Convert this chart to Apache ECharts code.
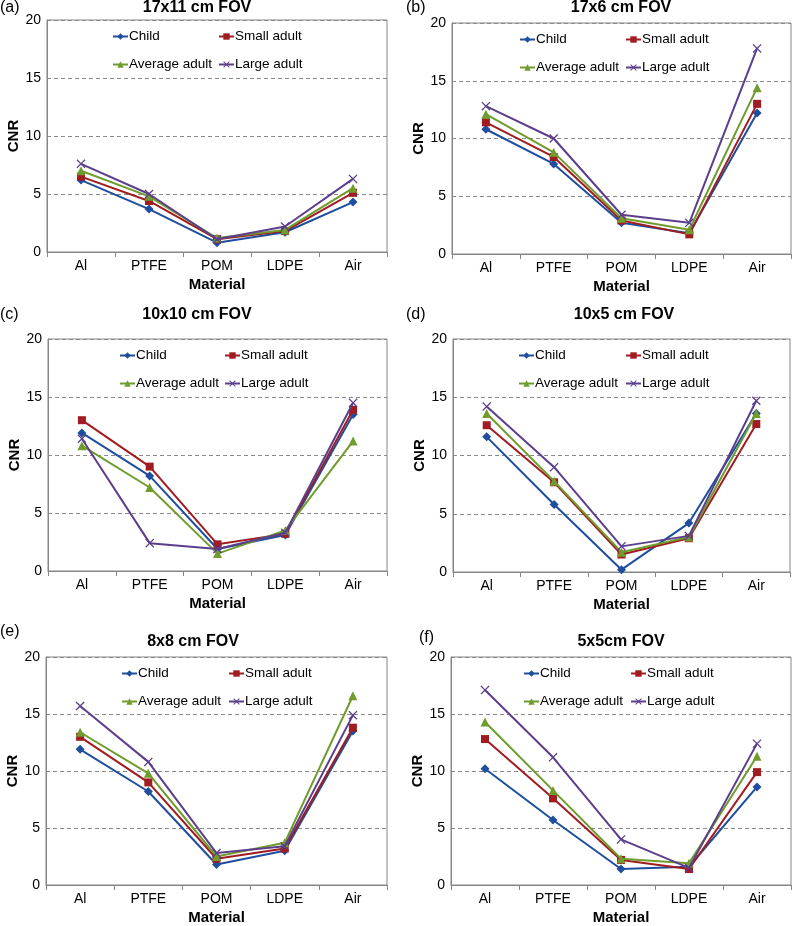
<!DOCTYPE html>
<html>
<head>
<meta charset="utf-8">
<title>CNR by material and FOV</title>
<script src="https://cdn.jsdelivr.net/npm/echarts@6/dist/echarts.min.js"></script>
<style>
  html, body { margin: 0; padding: 0; background: #fff; }
  #chart { width: 794px; height: 926px; }
</style>
</head>
<body>
<div id="chart"></div>
<script>
// categories, series names, y ticks
const materials = ['Al', 'PTFE', 'POM', 'LDPE', 'Air'];
const groups = ['Child', 'Small adult', 'Average adult', 'Large adult'];
const panelTitles = ['17x11 cm FOV', '17x6 cm FOV', '10x10 cm FOV', '10x5 cm FOV', '8x8 cm FOV', '5x5cm FOV'];
const panelLetters = ['(a)', '(b)', '(c)', '(d)', '(e)', '(f)'];

// CNR values: Child, Small, Average, Large per panel
const a_child = [6.2, 3.7, 0.8, 1.7, 4.3];
const a_small = [6.5, 4.4, 1.1, 1.8, 5.1];
const a_avg   = [7.0, 4.8, 1.2, 1.9, 5.5];
const a_large = [7.6, 5.0, 1.1, 2.2, 6.3];

const b_child = [10.8, 7.8, 2.7, 1.8, 12.2];
const b_small = [11.4, 8.4, 2.9, 1.7, 13.0];
const b_avg   = [12.1, 8.8, 3.1, 2.1, 14.4];
const b_large = [12.8, 10.0, 3.4, 2.7, 17.8];

const c_child = [11.9, 8.2, 1.9, 3.1, 13.5];
const c_small = [13.0, 9.0, 2.3, 3.2, 13.9];
const c_avg   = [10.8, 7.2, 1.5, 3.5, 11.2];
const c_large = [11.4, 2.4, 1.9, 3.3, 14.5];

const d_child = [11.6, 5.8, 0.2, 4.2, 13.6];
const d_small = [12.6, 7.7, 1.5, 2.9, 12.7];
const d_avg   = [13.6, 7.8, 1.7, 3.0, 13.6];
const d_large = [14.2, 9.0, 2.2, 3.1, 14.7];

const e_child = [11.9, 8.2, 1.8, 3.0, 13.5];
const e_small = [13.0, 9.0, 2.3, 3.2, 13.8];
const e_avg   = [13.4, 9.8, 2.5, 3.7, 16.6];
const e_large = [15.7, 10.8, 2.8, 3.4, 14.9];

const f_child = [10.2, 5.7, 1.4, 1.6, 8.6];
const f_small = [12.8, 7.6, 2.2, 1.4, 9.9];
const f_avg   = [14.3, 8.3, 2.3, 1.9, 11.3];
const f_large = [17.1, 11.2, 4.0, 1.5, 12.4];

const panels = [
  [a_child, a_small, a_avg, a_large],
  [b_child, b_small, b_avg, b_large],
  [c_child, c_small, c_avg, c_large],
  [d_child, d_small, d_avg, d_large],
  [e_child, e_small, e_avg, e_large],
  [f_child, f_small, f_avg, f_large],
];

const FONT = '"Liberation Sans", Arial, sans-serif';
const COLORS = ['#1f4e9e', '#a01c20', '#6f9c2c', '#5c3f8c'];
const XMARK = 'path://M0,1L1,0L5,4L9,0L10,1L6,5L10,9L9,10L5,6L1,10L0,9L4,5Z';
const SYMBOLS = ['diamond', 'rect', 'triangle', XMARK];
const SYMSIZE = [9, 8, 9, 9];

// layout of each panel (plot box, title centre, letter, legend spot)
const boxes = [
  { l: 47, t: 20, w: 340, h: 232, tx: 197, ty: 8, ly: 8, lg: [112, 218, 29] },
  { l: 452, t: 23, w: 339, h: 231, tx: 621, ty: 8, ly: 8, lg: [519, 625, 32] },
  { l: 48, t: 339, w: 339, h: 232, tx: 197, ty: 315, ly: 315, lg: [119, 224, 348] },
  { l: 453, t: 339, w: 337, h: 233, tx: 624, ty: 315, ly: 315, lg: [518, 625, 348] },
  { l: 46, t: 657, w: 341, h: 232, tx: 193, ty: 642, ly: 632, lg: [121, 228, 666] },
  { l: 451, t: 657, w: 340, h: 231, tx: 621, ty: 642, ly: 638, lg: [523, 630, 666] },
];
const letterX = [0, 406, 0, 406, 0, 419];

const grid = [], xAxis = [], yAxis = [], series = [], legend = [], graphic = [];

boxes.forEach((b, i) => {
  grid.push({ left: b.l, top: b.t, width: b.w, height: b.h, show: true, borderColor: '#868686', borderWidth: 1 });
  xAxis.push({
    type: 'category', gridIndex: i, data: materials,
    name: 'Material', nameLocation: 'middle', nameGap: 25,
    nameTextStyle: { fontFamily: FONT, fontSize: 15, fontWeight: 'bold', color: '#000' },
    axisLine: { lineStyle: { color: '#868686' } },
    axisTick: { show: true, length: 5, lineStyle: { color: '#868686' } },
    axisLabel: { fontFamily: FONT, fontSize: 14, color: '#000', margin: 7 },
  });
  yAxis.push({
    type: 'value', gridIndex: i, min: 0, max: 20, interval: 5,
    name: 'CNR', nameLocation: 'middle', nameRotate: 90, nameGap: 25,
    nameTextStyle: { fontFamily: FONT, fontSize: 15, fontWeight: 'bold', color: '#000' },
    axisLine: { show: true, lineStyle: { color: '#868686' } },
    axisTick: { show: false },
    axisLabel: { fontFamily: FONT, fontSize: 14, color: '#000', margin: 6 },
    splitLine: { lineStyle: { color: '#8a8a8a', type: [4, 3] } },
  });
  panels[i].forEach((vals, k) => {
    series.push({
      type: 'line', name: groups[k], xAxisIndex: i, yAxisIndex: i, data: vals,
      symbol: SYMBOLS[k], symbolSize: SYMSIZE[k], showSymbol: true,
      lineStyle: { color: COLORS[k], width: 2 },
      itemStyle: { color: COLORS[k] },
      animation: false, z: 2 + k,
    });
  });
  const lt = { fontFamily: FONT, fontSize: 13.5, color: '#000', lineHeight: 15, padding: [0, 0, 0, -4] };
  legend.push({ orient: 'vertical', left: b.lg[0], top: b.lg[2], data: ['Child', 'Average adult'],
    itemWidth: 15, itemHeight: 8, itemGap: 13, textStyle: lt, selectedMode: false, padding: 0 });
  legend.push({ orient: 'vertical', left: b.lg[1], top: b.lg[2], data: ['Small adult', 'Large adult'],
    itemWidth: 15, itemHeight: 8, itemGap: 13, textStyle: lt, selectedMode: false, padding: 0 });
  graphic.push({ type: 'text', x: b.tx, y: b.ty,
    style: { text: panelTitles[i], font: 'bold 16px ' + FONT, fill: '#000', textAlign: 'center', textVerticalAlign: 'middle' } });
  graphic.push({ type: 'text', x: letterX[i], y: b.ly,
    style: { text: panelLetters[i], font: '16px ' + FONT, fill: '#000', textAlign: 'left', textVerticalAlign: 'middle' } });
});

const chart = echarts.init(document.getElementById('chart'));
chart.setOption({
  backgroundColor: '#fff',
  animation: false,
  grid, xAxis, yAxis, series, legend, graphic,
});
</script>
</body>
</html>
